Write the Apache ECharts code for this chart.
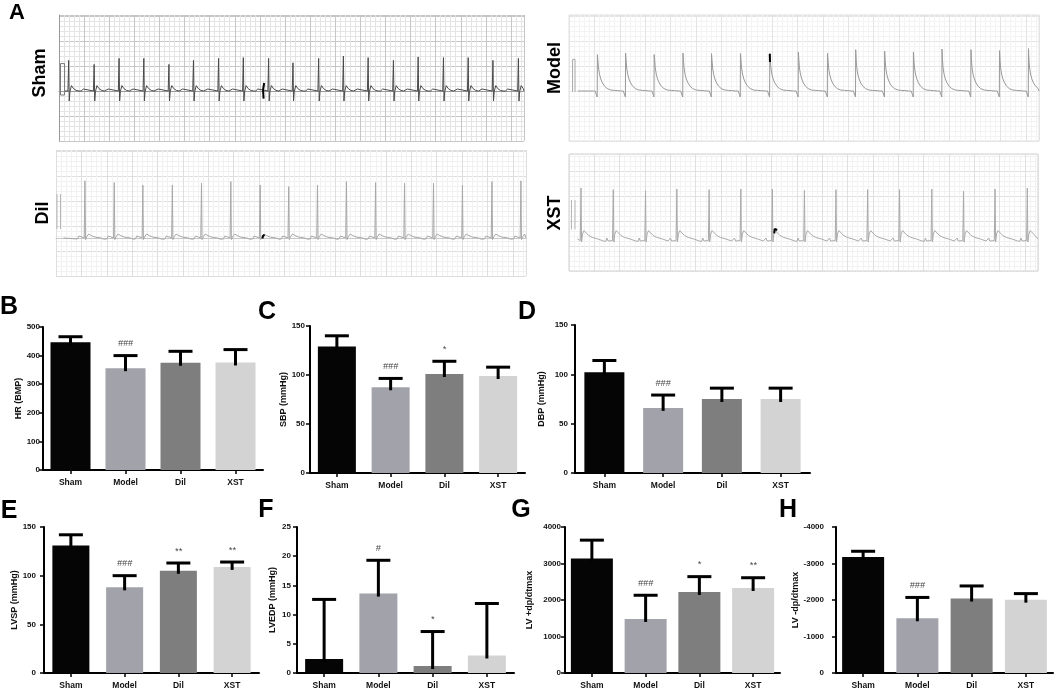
<!DOCTYPE html>
<html>
<head>
<meta charset="utf-8">
<script src="https://cdn.jsdelivr.net/npm/echarts@6/dist/echarts.min.js"></script>
<style>
  html, body { margin: 0; background: #fff; }
  #chart { width: 1059px; height: 693px; }
</style>
</head>
<body>
<div id="chart"></div>
<script>
// ---------- bar data (B-H) ----------
const groups = ['Sham', 'Model', 'Dil', 'XST'];
const groupColors = ['#050505', '#a2a2aa', '#7e7e7e', '#d3d3d3'];

const hrMean = [447, 356, 375, 376];
const hrSd = [19, 44, 40, 45];
const hrNote = ['', '###', '', ''];

const sbpMean = [129, 87.5, 101, 99];
const sbpSd = [11, 9, 13, 9];
const sbpNote = ['', '###', '*', ''];

const dbpMean = [102, 66, 75, 75];
const dbpSd = [12, 13, 11, 11];
const dbpNote = ['', '###', '', ''];

const lvspMean = [131, 88, 105, 109];
const lvspSd = [11, 12, 8, 5];
const lvspNote = ['', '###', '**', '**'];

const lvedpMean = [2.4, 13.6, 1.2, 3.0];
const lvedpSd = [10.2, 5.7, 5.9, 8.9];
const lvedpNote = ['', '#', '*', ''];

const plusMean = [3140, 1480, 2220, 2330];
const plusSd = [500, 650, 420, 280];
const plusNote = ['', '###', '*', '**'];

const minusMean = [-3180, -1500, -2040, -2010];
const minusSd = [155, 570, 345, 165];
const minusNote = ['', '###', '', ''];

// ---------- ECG data (A) : R-peak times (s), R amplitudes (mV), beat shape ----------
const shamBeats = [0.052, 0.189, 0.323, 0.456, 0.591, 0.723, 0.858, 0.991, 1.127, 1.258, 1.396, 1.529, 1.662, 1.798, 1.931, 2.067, 2.200, 2.333, 2.470];
const shamAmps = [1.53, 1.33, 1.63, 1.63, 1.33, 1.53, 1.63, 1.67, 1.63, 1.41, 1.63, 1.75, 1.67, 1.53, 1.7, 1.67, 1.67, 1.53, 1.63];
const shamWave = [[-0.07, 0], [-0.058, 0.1], [-0.048, 0], [-0.004, 0], [0, 'R'], [0.003, -0.5], [0.007, -0.02], [0.015, 0.27], [0.026, 0.12], [0.04, 0.03], [0.055, 0]];

const modelBeats = [0.151, 0.301, 0.453, 0.606, 0.758, 0.912, 1.068, 1.220, 1.375, 1.525, 1.679, 1.832, 1.984, 2.138, 2.290, 2.444];
const modelAmps = [1.82, 1.9, 1.82, 1.9, 1.87, 1.87, 1.9, 1.95, 1.9, 2.07, 1.99, 1.95, 2.1, 2.07, 2.02, 2.12];
const modelWave = [[-0.025, 0], [-0.018, 0.06], [-0.012, 0], [-0.003, 0], [-0.001, -0.3], [0, 'R'], [0.003, 1.5], [0.006, 1.15], [0.011, 0.85], [0.018, 0.6], [0.027, 0.4], [0.038, 0.24], [0.052, 0.12], [0.07, 0.05], [0.09, 0.03], [0.1, 0.08], [0.108, 0.02], [0.115, 0]];

const dilBeats = [0.154, 0.310, 0.462, 0.619, 0.774, 0.930, 1.086, 1.238, 1.391, 1.545, 1.700, 1.854, 2.008, 2.162, 2.319, 2.473];
const dilAmps = [2.86, 2.77, 2.64, 2.65, 2.74, 2.82, 2.65, 2.57, 2.65, 2.82, 2.77, 2.74, 2.74, 2.65, 2.82, 2.86];
const dilWave = [[-0.04, -0.05], [-0.032, 0.1], [-0.024, 0], [-0.004, 0], [0, 'R'], [0.003, -0.08], [0.009, 0.06], [0.02, 0.2], [0.034, 0.12], [0.055, 0.04], [0.085, 0], [0.1, -0.06], [0.108, -0.06]];

const xstBeats = [0.064, 0.236, 0.408, 0.575, 0.747, 0.916, 1.084, 1.255, 1.423, 1.592, 1.762, 1.934, 2.103, 2.271, 2.443];
const xstAmps = [2.55, 2.47, 2.41, 2.5, 2.47, 2.5, 2.5, 2.43, 2.47, 2.47, 2.47, 2.5, 2.38, 2.5, 2.55];
const xstWave = [[-0.04, -0.12], [-0.034, 0.05], [-0.028, -0.1], [-0.004, -0.08], [0, 'R'], [0.003, -0.15], [0.008, 0.25], [0.016, 0.42], [0.026, 0.32], [0.04, 0.18], [0.06, 0.08], [0.09, 0], [0.12, -0.1]];

// calibration pulses and the black event marks
const shamCalib = [[[0.008, -0.2], [0.008, 1.37], [0.030, 1.37], [0.030, -0.2], [0.008, -0.2]]];
const modelCalib = [[[0.019, -0.05], [0.019, 1.58], [0.032, 1.58], [0.032, -0.05]]];
const dilCalib = [[[0.005, 0.45], [0.005, 2.2]], [[0.024, 0.45], [0.024, 2.2]]];
const xstCalib = [[[0.013, 0.48], [0.013, 1.95]], [[0.032, 0.48], [0.032, 1.95]]];

const shamMark = [[1.103, 0.4], [1.097, 0.05], [1.1, -0.38]];
const modelMark = [[1.068, 1.85], [1.069, 1.45]];
const dilMark = [[1.098, -0.03], [1.102, 0.12], [1.11, 0.15]];
const xstMark = [[1.094, 0.28], [1.096, 0.5], [1.104, 0.55], [1.11, 0.45]];

const FONT = '"Liberation Sans", Arial, sans-serif';

// ---------- layout ----------
const ecgPanels = [
  { label: 'Sham', lx: 40, ly: 73, rect: { left: 59, top: 15, width: 465, height: 126 }, beats: shamBeats, amps: shamAmps, wave: shamWave, start: 0.032, yMin: -2.5, yMax: 3.8,
    trace: '#4a4a4a', calibColor: '#777', major: '#c6c6c6', minor: '#e4e4e4', calib: shamCalib, mark: shamMark, frame: 'lb', frameColor: '#9a9a9a' },
  { label: 'Model', lx: 555, ly: 68, rect: { left: 569, top: 15, width: 470, height: 126 }, beats: modelBeats, amps: modelAmps, wave: modelWave, start: 0.046, yMin: -2.5, yMax: 3.8,
    trace: '#9a9a9a', calibColor: '#aaa', major: '#e4e4e4', minor: '#f3f3f3', calib: modelCalib, mark: modelMark, frame: 'box', frameColor: '#e0e0e0' },
  { label: 'Dil', lx: 43, ly: 213, rect: { left: 56, top: 150, width: 470, height: 126 }, beats: dilBeats, amps: dilAmps, wave: dilWave, start: 0.04, yMin: -1.9, yMax: 4.4,
    trace: '#a8a8a8', calibColor: '#b5b5b5', major: '#dedede', minor: '#f1f1f1', calib: dilCalib, mark: dilMark, frame: 'b', frameColor: '#c8c8c8' },
  { label: 'XST', lx: 555, ly: 213, rect: { left: 569, top: 154, width: 469, height: 117 }, beats: xstBeats, amps: xstAmps, wave: xstWave, start: 0.045, yMin: -1.6, yMax: 4.25,
    trace: '#aaaaaa', calibColor: '#b5b5b5', major: '#e0e0e0', minor: '#f2f2f2', calib: xstCalib, mark: xstMark, frame: 'box', frameColor: '#cfcfcf' }
];

const barPanels = [
  { letter: 'B', lx: 9, ly: 307, name: 'HR (BMP)', mean: hrMean, sd: hrSd, note: hrNote, min: 0, max: 500, step: 100,
    rect: { left: 43, top: 327, width: 220, height: 143 }, gap: 11, margin: 3, bw: 40 },
  { letter: 'C', lx: 267, ly: 312, name: 'SBP (mmHg)', mean: sbpMean, sd: sbpSd, note: sbpNote, min: 0, max: 150, step: 50,
    rect: { left: 310, top: 326, width: 215, height: 147 }, gap: 20, margin: 5, bw: 38 },
  { letter: 'D', lx: 527, ly: 312, name: 'DBP (mmHg)', mean: dbpMean, sd: dbpSd, note: dbpNote, min: 0, max: 150, step: 50,
    rect: { left: 575, top: 325, width: 235, height: 148 }, gap: 29, margin: 7, bw: 40 },
  { letter: 'E', lx: 9, ly: 511, name: 'LVSP (mmHg)', mean: lvspMean, sd: lvspSd, note: lvspNote, min: 0, max: 150, step: 50,
    rect: { left: 44, top: 527, width: 215, height: 146 }, gap: 24, margin: 8, bw: 37 },
  { letter: 'F', lx: 266, ly: 510, name: 'LVEDP (mmHg)', mean: lvedpMean, sd: lvedpSd, note: lvedpNote, min: 0, max: 25, step: 5,
    rect: { left: 297, top: 527, width: 217, height: 146 }, gap: 20, margin: 6, bw: 38 },
  { letter: 'G', lx: 521, ly: 510, name: 'LV +dp/dtmax', mean: plusMean, sd: plusSd, note: plusNote, min: 0, max: 4000, step: 1000,
    rect: { left: 565, top: 527, width: 215, height: 146 }, gap: 31, margin: 4, bw: 42 },
  { letter: 'H', lx: 788, ly: 510, name: 'LV -dp/dtmax', mean: minusMean, sd: minusSd, note: minusNote, min: -4000, max: 0, step: 1000, inverse: true,
    rect: { left: 836, top: 527, width: 217, height: 146 }, gap: 36, margin: 12, bw: 42 }
];

// lay the beat shape down at every R-peak time
function buildTrace(p) {
  const pts = [[p.start, 0]];
  p.beats.forEach((t, i) => {
    p.wave.forEach(([dt, v]) => {
      const x = t + dt;
      if (x > p.start && x < 2.5) pts.push([+x.toFixed(4), v === 'R' ? p.amps[i] : v]);
    });
  });
  pts.push([2.5, 0]);
  return pts;
}

const grids = [], xAxes = [], yAxes = [], series = [], graphics = [];

graphics.push({ type: 'text', x: 17, y: 13, style: { text: 'A', font: 'bold 22px ' + FONT, fill: '#000', align: 'center', verticalAlign: 'middle' } });

ecgPanels.forEach((p, g) => {
  grids.push(Object.assign({ show: p.frame === 'box', borderColor: p.frameColor, borderWidth: 1, outerBoundsMode: 'none' }, p.rect));
  xAxes.push({
    type: 'value', gridIndex: g, min: 0, max: 2.5, interval: 0.135,
    axisLine: { show: p.frame !== 'box', lineStyle: { color: p.frameColor, width: 1 } },
    axisTick: { show: false }, axisLabel: { show: false },
    splitLine: { show: true, lineStyle: { color: p.major, width: 1 } },
    minorTick: { show: false, splitNumber: 5 },
    minorSplitLine: { show: true, lineStyle: { color: p.minor, width: 1 } }
  });
  yAxes.push({
    type: 'value', gridIndex: g, min: p.yMin, max: p.yMax, interval: 1.25,
    axisLine: { show: p.frame === 'lb', lineStyle: { color: p.frameColor, width: 1 } },
    axisTick: { show: false }, axisLabel: { show: false },
    splitLine: { show: true, lineStyle: { color: p.major, width: 1 } },
    minorTick: { show: false, splitNumber: 5 },
    minorSplitLine: { show: true, lineStyle: { color: p.minor, width: 1 } }
  });
  series.push({
    type: 'line', xAxisIndex: g, yAxisIndex: g, data: buildTrace(p), showSymbol: false, silent: true,
    lineStyle: { color: p.trace, width: 1 }, z: 3
  });
  p.calib.forEach(c => series.push({
    type: 'line', xAxisIndex: g, yAxisIndex: g, data: c, showSymbol: false, silent: true,
    lineStyle: { color: p.calibColor, width: 1 }, z: 3
  }));
  series.push({
    type: 'line', xAxisIndex: g, yAxisIndex: g, data: p.mark, showSymbol: false, silent: true,
    lineStyle: { color: '#000', width: 2 }, z: 4
  });
  graphics.push({
    type: 'text', x: p.lx, y: p.ly, rotation: Math.PI / 2,
    style: { text: p.label, font: 'bold 18px ' + FONT, fill: '#000', align: 'center', verticalAlign: 'middle' }
  });
});

const axisText = { color: '#111', fontSize: 8, fontWeight: 'bold', fontFamily: FONT };

barPanels.forEach((p, k) => {
  const g = ecgPanels.length + k;
  grids.push(Object.assign({ outerBoundsMode: 'none' }, p.rect));
  xAxes.push({
    type: 'category', gridIndex: g, data: groups,
    axisLine: { show: true, lineStyle: { color: '#000', width: 2 } },
    axisTick: { show: true, alignWithLabel: true, length: 4, lineStyle: { color: '#000', width: 1.5 } },
    axisLabel: Object.assign({ margin: 8 }, axisText, { fontSize: 8.5 }),
    splitLine: { show: false }
  });
  yAxes.push({
    type: 'value', gridIndex: g, min: p.min, max: p.max, interval: p.step, inverse: !!p.inverse,
    name: p.name, nameLocation: 'middle', nameGap: p.gap,
    nameTextStyle: { color: '#111', fontSize: 9, fontWeight: 'bold', fontFamily: FONT },
    axisLine: { show: true, lineStyle: { color: '#000', width: 2 } },
    axisTick: { show: true, length: 4, lineStyle: { color: '#000', width: 1.5 } },
    axisLabel: Object.assign({ margin: p.margin, formatter: v => String(v) }, axisText),
    splitLine: { show: false }
  });
  series.push({
    type: 'bar', xAxisIndex: g, yAxisIndex: g, barWidth: p.bw, silent: true,
    data: p.mean.map((v, i) => ({ value: v, itemStyle: { color: groupColors[i] } }))
  });
  series.push({
    type: 'custom', xAxisIndex: g, yAxisIndex: g, silent: true, z: 5,
    data: p.mean.map((m, i) => [i, m, m + Math.sign(m) * p.sd[i]]),
    renderItem(params, api) {
      const base = api.coord([api.value(0), api.value(1)]);
      const top = api.coord([api.value(0), api.value(2)]);
      const half = 12;
      const children = [
        { type: 'line', shape: { x1: base[0], y1: base[1] + 3, x2: top[0], y2: top[1] }, style: { stroke: '#000', lineWidth: 3 } },
        { type: 'line', shape: { x1: top[0] - half, y1: top[1], x2: top[0] + half, y2: top[1] }, style: { stroke: '#000', lineWidth: 3 } }
      ];
      const note = p.note[params.dataIndex];
      if (note) {
        children.push({
          type: 'text', x: top[0], y: top[1] - 12,
          style: { text: note, font: 'italic 9px ' + FONT, fill: '#444', align: 'center', verticalAlign: 'middle' }
        });
      }
      return { type: 'group', children };
    }
  });
  graphics.push({
    type: 'text', x: p.lx, y: p.ly,
    style: { text: p.letter, font: 'bold 25px ' + FONT, fill: '#000', align: 'center', verticalAlign: 'middle' }
  });
});

const chart = echarts.init(document.getElementById('chart'));
chart.setOption({
  backgroundColor: '#fff',
  animation: false,
  grid: grids,
  xAxis: xAxes,
  yAxis: yAxes,
  series: series,
  graphic: graphics
});
</script>
</body>
</html>
